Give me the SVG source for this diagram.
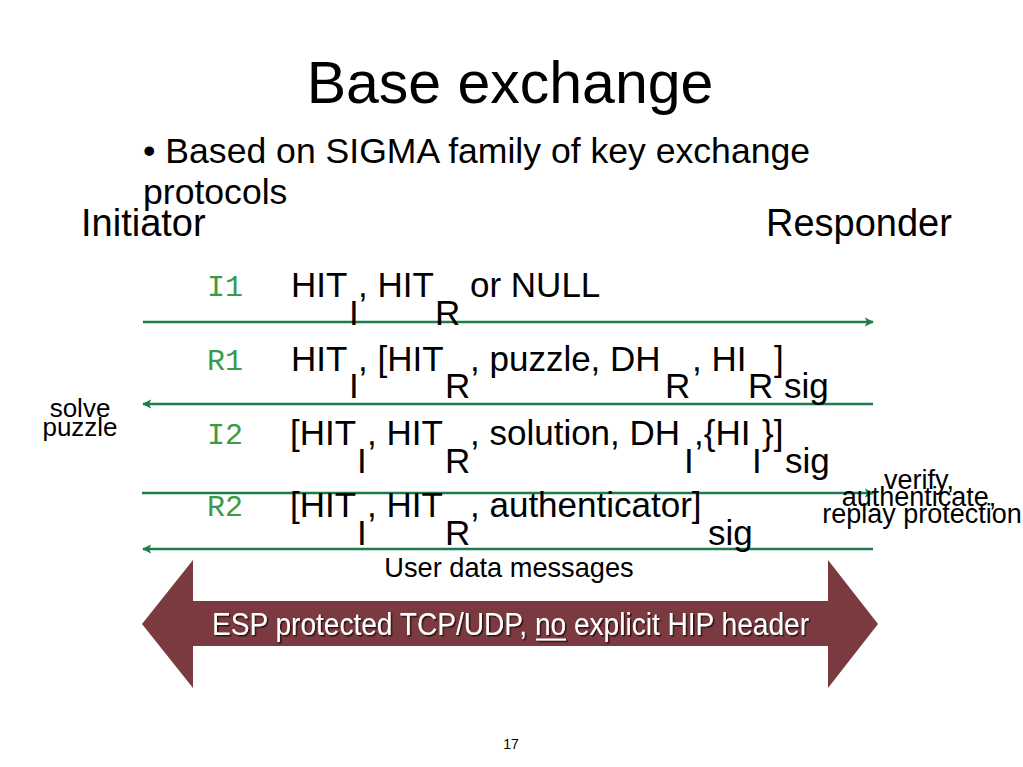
<svg xmlns="http://www.w3.org/2000/svg" width="1023" height="767" viewBox="0 0 1023 767">
<style>
text{font-family:"Liberation Sans",Arial,sans-serif;fill:#000}
.title{font-size:59px}
.body{font-size:35.6px}
.party{font-size:38px}
.m{font-size:35px}
.lbl{font-family:"Liberation Mono","Courier New",monospace;font-size:30px;fill:#3a9a48}
.note{font-size:26px}
.note2{font-size:27px}
.ud{font-size:27.2px}
.conn{stroke:#1e7b4b;stroke-width:2.7;fill:none}
.esp{font-size:31px;fill:#fff}
</style>
<defs>
<marker id="ah" viewBox="0 0 10 10" refX="9" refY="5" markerWidth="3.4" markerHeight="3.4" orient="auto-start-reverse" markerUnits="strokeWidth">
<path d="M0,0 L10,5 L0,10 L2.5,5 Z" fill="#1e7b4b"/>
</marker>
<filter id="sh" x="-5%" y="-30%" width="110%" height="160%">
<feDropShadow dx="1.5" dy="1.5" stdDeviation="0.6" flood-color="#2a1010" flood-opacity="0.9"/>
</filter>
</defs>
<rect width="1023" height="767" fill="#fff"/>

<text class="title" x="510" y="103" text-anchor="middle">Base exchange</text>
<text class="body" x="143" y="163">• Based on SIGMA family of key exchange</text>
<text class="body" x="143" y="204">protocols</text>

<g id="initiator"><text class="party" x="81" y="236">Initiator</text></g>
<g id="responder"><text class="party" x="766" y="236">Responder</text></g>

<g id="connectors">
<line class="conn" x1="143" y1="322" x2="873" y2="322" marker-end="url(#ah)"/>
<line class="conn" x1="143" y1="404" x2="873" y2="404" marker-start="url(#ah)"/>
<line class="conn" x1="142" y1="493" x2="873" y2="493" marker-end="url(#ah)"/>
<line class="conn" x1="143" y1="549" x2="873" y2="549" marker-start="url(#ah)"/>
</g>

<g id="msg-I1">
<text class="lbl" x="207" y="296">I1</text>
<text class="m"><tspan x="291" y="297">HIT</tspan><tspan x="349" y="325">I</tspan><tspan x="358" y="297">, HIT</tspan><tspan x="435" y="325">R</tspan><tspan x="470" y="297">or NULL</tspan></text>
</g>

<g id="msg-R1">
<text class="lbl" x="207" y="370">R1</text>
<text class="m"><tspan x="291" y="371">HIT</tspan><tspan x="349" y="398">I</tspan><tspan x="358" y="371">, [HIT</tspan><tspan x="445" y="398">R</tspan><tspan x="470" y="371">, puzzle, DH</tspan><tspan x="665" y="398">R</tspan><tspan x="692" y="371">, HI</tspan><tspan x="748" y="398">R</tspan><tspan x="774" y="371">]</tspan><tspan x="784" y="398">sig</tspan></text>
</g>

<g id="msg-I2">
<text class="lbl" x="207" y="444">I2</text>
<text class="m"><tspan x="290" y="445">[HIT</tspan><tspan x="357" y="473">I</tspan><tspan x="367" y="445">, HIT</tspan><tspan x="445" y="473">R</tspan><tspan x="470" y="445">, solution, DH</tspan><tspan x="684" y="473">I</tspan><tspan x="694" y="445">,{HI</tspan><tspan x="752" y="473">I</tspan><tspan x="762" y="445">}]</tspan><tspan x="785" y="473">sig</tspan></text>
</g>

<g id="msg-R2">
<text class="lbl" x="207" y="516">R2</text>
<text class="m"><tspan x="290" y="517">[HIT</tspan><tspan x="357" y="545">I</tspan><tspan x="367" y="517">, HIT</tspan><tspan x="445" y="545">R</tspan><tspan x="470" y="517">, authenticator]</tspan><tspan x="708" y="545">sig</tspan></text>
</g>

<g id="note-solve">
<text class="note" x="80" y="417" text-anchor="middle">solve</text>
<text class="note" x="80" y="436" text-anchor="middle">puzzle</text>
</g>

<g id="note-verify">
<text class="note2" x="919" y="489" text-anchor="middle">verify,</text>
<text class="note2" x="919" y="506" text-anchor="middle">authenticate,</text>
<text class="note2" x="922" y="523" text-anchor="middle">replay protection</text>
</g>

<g id="user-data">
<text class="ud" x="509" y="577" text-anchor="middle">User data messages</text>
<polygon points="142,624 193,560 193,601 828,601 828,560 878,624 828,688 828,646 193,646 193,688" fill="#7a3a3f"/>
<g filter="url(#sh)">
<text class="esp" x="212" y="635" textLength="597" lengthAdjust="spacingAndGlyphs">ESP protected TCP/UDP, no explicit HIP header</text>
<line x1="536" y1="639.5" x2="566" y2="639.5" stroke="#fff" stroke-width="2"/>
</g>
</g>

<text x="511" y="749" text-anchor="middle" font-size="14">17</text>
</svg>
